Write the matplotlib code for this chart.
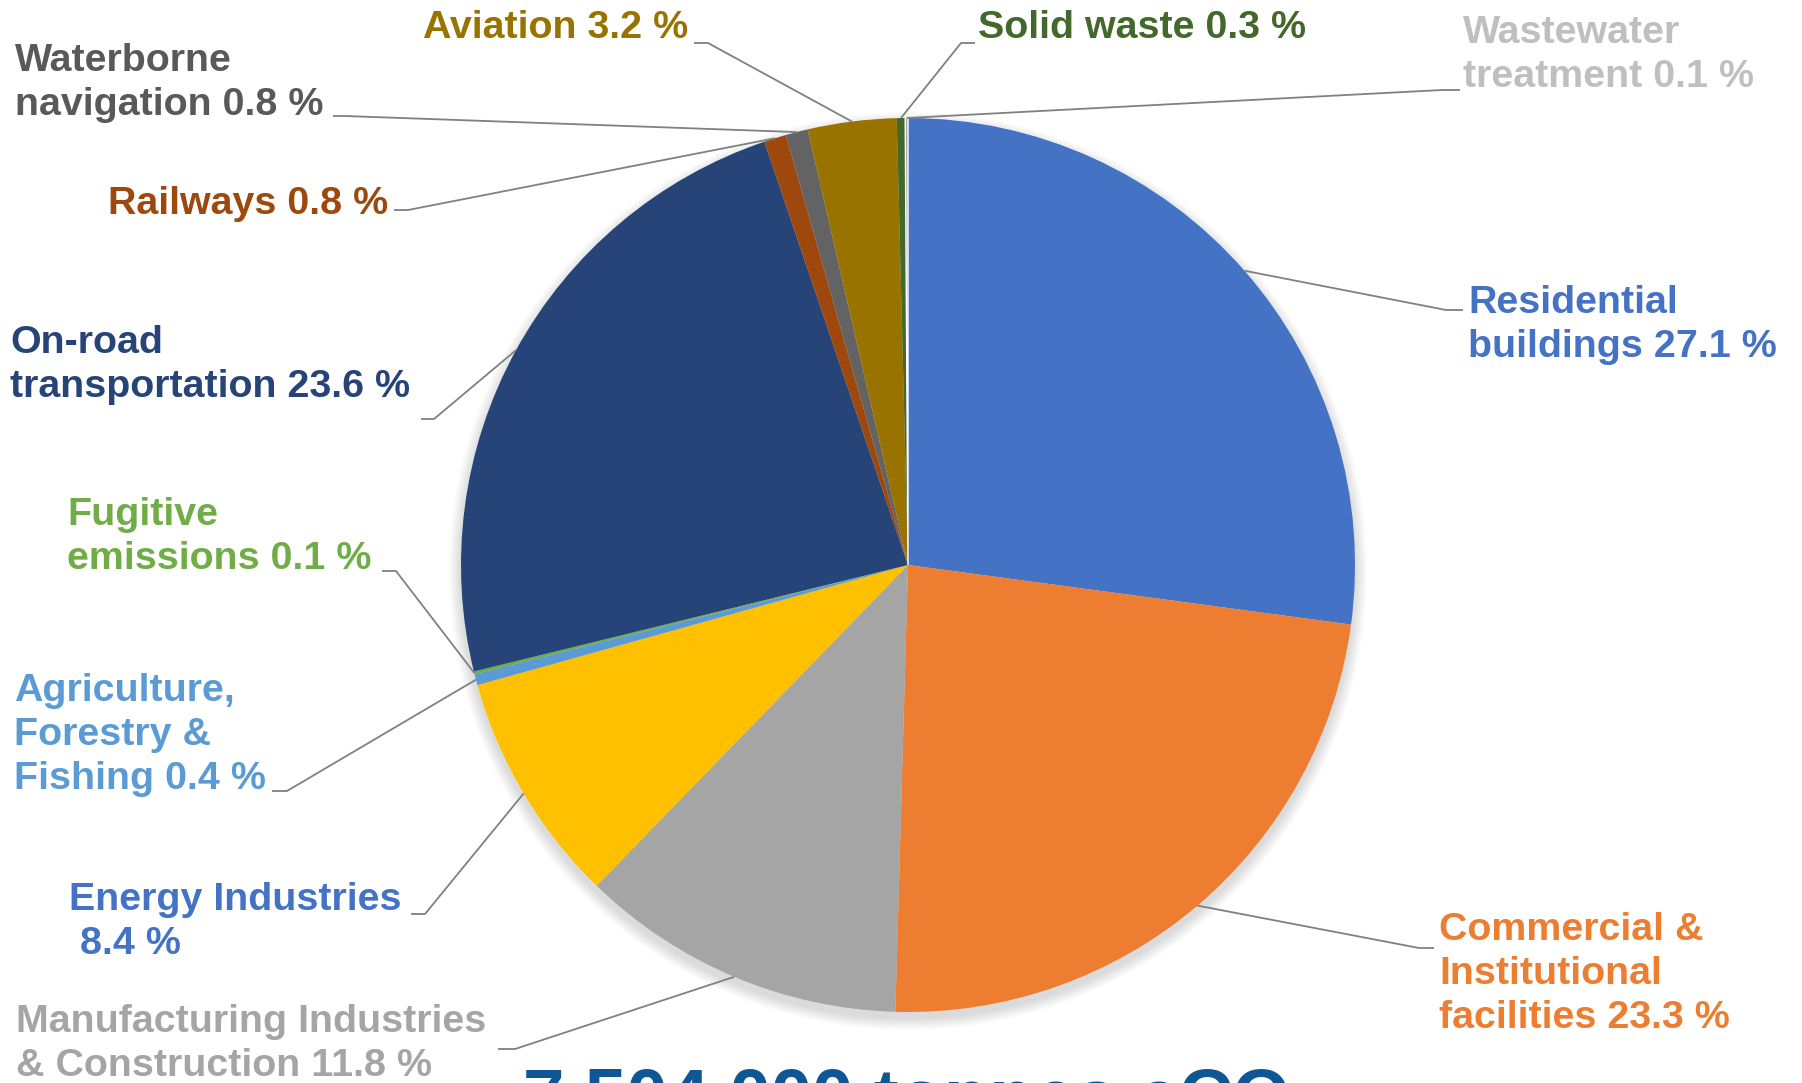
import matplotlib
matplotlib.use("Agg")
import matplotlib.pyplot as plt
import numpy as np
from matplotlib.patches import Circle

categories = ["Residential\nbuildings", "Commercial &\nInstitutional\nfacilities",
              "Manufacturing Industries\n& Construction", "Energy Industries\n", "Agriculture,\nForestry &\nFishing",
              "Fugitive\nemissions", "On-road\ntransportation", "Railways", "Waterborne\nnavigation",
              "Aviation", "Solid waste", "Wastewater\ntreatment"]
values = [27.1, 23.3, 11.8, 8.4, 0.4, 0.1, 23.6, 0.8, 0.8, 3.2, 0.3, 0.1]
wedge_colors = ["#4472C4", "#ED7D31", "#A5A5A5", "#FFC000", "#5B9BD5", "#70AD47",
                "#264478", "#9E480E", "#636363", "#997300", "#43682B", "#A5A5A5"]
label_colors = ["#4472C4", "#ED7D31", "#A5A5A5", "#4472C4", "#5B9BD5", "#70AD47",
                "#264478", "#9E480E", "#595959", "#997300", "#43682B", "#BFBFBF"]
total_text = "7,504,000 tonnes eCO₂"

W, H = 1802, 1083
fig = plt.figure(figsize=(W / 100, H / 100), dpi=100)
ax = fig.add_axes([0, 0, 1, 1])

def Y(y):
    return H - y

cx, cy, R = 908, Y(565), 447

wedges, _ = ax.pie(values, colors=wedge_colors, startangle=90, counterclock=False,
                   center=(cx, cy), radius=R, wedgeprops=dict(linewidth=0))
ax.set_xlim(0, W)
ax.set_ylim(0, H)
ax.set_aspect("equal")
ax.axis("off")

# soft shadow
for i in range(12):
    ax.add_patch(Circle((cx, cy - 6), R + 12 - i, color="black", alpha=0.012, lw=0, zorder=0))

for w in wedges:
    w.set_zorder(2)
wedges[-1].set_edgecolor("white")
wedges[-1].set_linewidth(1)

# label layout: (text x, text y center, elbow x, elbow y, end x, end y)
layout = [
    (1468, 325, 1446, 310, 1463, 310),
    (1439, 974, 1419, 948, 1434, 948),
    (16, 1044, 515, 1049, 498, 1049),
    (69, 922, 425, 914, 411, 914),
    (14, 735, 287, 791, 272, 791),
    (67, 537, 396, 571, 382, 571),
    (10, 365, 434, 419, 421, 419),
    (108, 204, 408, 210, 394, 210),
    (15, 83, 345, 116, 333, 116),
    (423, 28, 708, 43, 694, 43),
    (978, 28, 961, 43, 975, 43),
    (1463, 55, 1442, 90, 1460, 90),
]

font = dict(family=["Liberation Sans", "DejaVu Sans"], weight="bold", fontsize=28.4)

for w, cat, v, col, (tx, ty, ex, ey, fx, fy) in zip(wedges, categories, values, label_colors, layout):
    mid = np.deg2rad((w.theta1 + w.theta2) / 2)
    sx, sy = cx + R * np.cos(mid), cy + R * np.sin(mid)
    ax.plot([sx, ex, fx], [sy, Y(ey), Y(fy)], color="#808080", lw=1.3, zorder=3,
            solid_capstyle="butt")
    txt = cat + f" {v} %"
    ax.text(tx, Y(ty), txt, color=col, ha="left", va="center", linespacing=1.29,
            zorder=4, **font)

ax.text(523, Y(1120), total_text, color="#0E5794", ha="left", va="baseline",
        family=["Liberation Sans", "DejaVu Sans"], weight="bold", fontsize=53.5, zorder=4)

fig.savefig("out.png", dpi=100)
